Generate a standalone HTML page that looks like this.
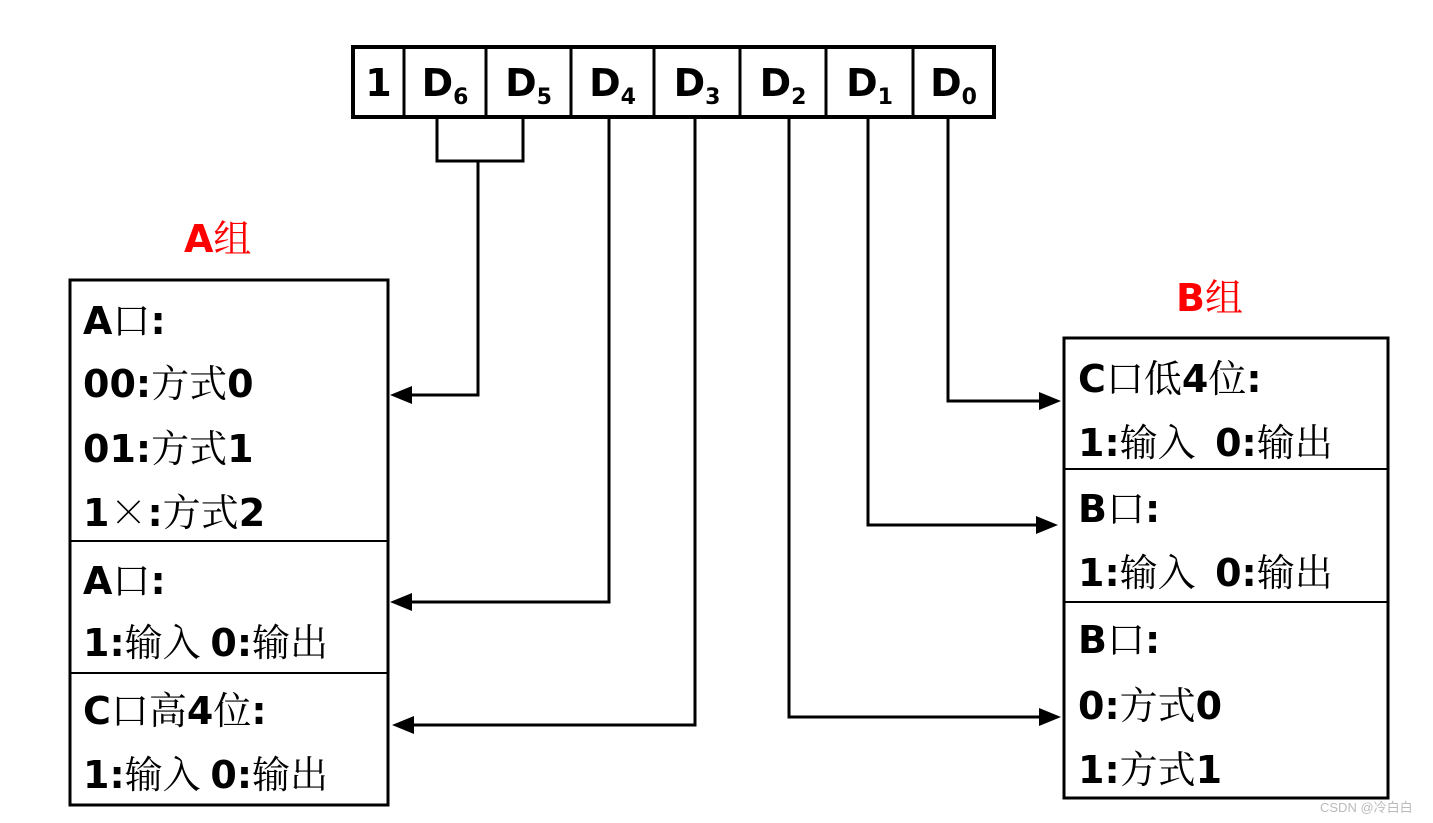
<!DOCTYPE html>
<html><head><meta charset="utf-8"><style>
body{margin:0;width:1433px;height:823px;background:#fff;position:relative;overflow:hidden;font-family:"DejaVu Sans","Noto Serif CJK SC",sans-serif;}
.t{position:absolute;font-size:38px;font-weight:bold;line-height:40px;height:40px;white-space:pre;color:#000}
.t span{font-family:"Noto Serif CJK SC","Noto Sans CJK SC",serif;font-weight:normal}
.r{color:#f00}
.cell{position:absolute;top:50px;height:66px;line-height:66px;text-align:center;font-size:38px;font-weight:bold}
.cell sub{font-size:22px;vertical-align:-8px}
</style></head><body>
<svg width="1433" height="823" style="position:absolute;left:0;top:0">
<g stroke="#000" stroke-width="3" fill="none">
<rect x="353" y="47" width="641" height="70" stroke-width="4"/>
<line x1="404" y1="47" x2="404" y2="117"/><line x1="486" y1="47" x2="486" y2="117"/>
<line x1="571" y1="47" x2="571" y2="117"/><line x1="654" y1="47" x2="654" y2="117"/>
<line x1="740" y1="47" x2="740" y2="117"/><line x1="826" y1="47" x2="826" y2="117"/>
<line x1="913" y1="47" x2="913" y2="117"/>
<polyline points="437,117 437,161 523,161 523,117"/>
<polyline points="478,161 478,395 405,395"/>
<polyline points="609,117 609,602 405,602"/>
<polyline points="695,117 695,725 405,725"/>
<polyline points="789,117 789,717 1045,717"/>
<polyline points="868,117 868,525 1045,525"/>
<polyline points="948,117 948,401 1045,401"/>
<rect x="70" y="280" width="318" height="525"/>
<line x1="70" y1="541" x2="388" y2="541" stroke-width="2"/>
<line x1="70" y1="673" x2="388" y2="673" stroke-width="2"/>
<rect x="1064" y="338" width="324" height="460"/>
<line x1="1064" y1="469" x2="1388" y2="469" stroke-width="2"/>
<line x1="1064" y1="602" x2="1388" y2="602" stroke-width="2"/>
</g>
<g fill="#000">
<polygon points="390,395 412,386 412,404"/>
<polygon points="390,602 412,593 412,611"/>
<polygon points="392,725 414,716 414,734"/>
<polygon points="1061,401 1039,392 1039,410"/>
<polygon points="1058,525 1036,516 1036,534"/>
<polygon points="1061,717 1039,708 1039,726"/>
</g>
</svg>
<div class="cell" style="left:353px;width:51px">1</div>
<div class="cell" style="left:404px;width:82px">D<sub>6</sub></div>
<div class="cell" style="left:486px;width:85px">D<sub>5</sub></div>
<div class="cell" style="left:571px;width:83px">D<sub>4</sub></div>
<div class="cell" style="left:654px;width:86px">D<sub>3</sub></div>
<div class="cell" style="left:740px;width:86px">D<sub>2</sub></div>
<div class="cell" style="left:826px;width:87px">D<sub>1</sub></div>
<div class="cell" style="left:913px;width:81px">D<sub>0</sub></div>

<div class="t r" style="left:184px;top:216px">A<span>组</span></div>
<div class="t r" style="left:1176px;top:275px">B<span>组</span></div>

<div class="t" style="left:83px;top:298px">A<span>口</span>:</div>
<div class="t" style="left:83px;top:361px">00:<span>方式</span>0</div>
<div class="t" style="left:83px;top:426px">01:<span>方式</span>1</div>
<div class="t" style="left:83px;top:490px">1<span>×</span>:<span>方式</span>2</div>
<div class="t" style="left:83px;top:558px">A<span>口</span>:</div>
<div class="t" style="left:83px;top:620px">1:<span>输入 </span>0:<span>输出</span></div>
<div class="t" style="left:83px;top:688px">C<span>口高</span>4<span>位</span>:</div>
<div class="t" style="left:83px;top:752px">1:<span>输入 </span>0:<span>输出</span></div>

<div class="t" style="left:1078px;top:356px">C<span>口低</span>4<span>位</span>:</div>
<div class="t" style="left:1078px;top:420px">1:<span>输入  </span>0:<span>输出</span></div>
<div class="t" style="left:1078px;top:486px">B<span>口</span>:</div>
<div class="t" style="left:1078px;top:550px">1:<span>输入  </span>0:<span>输出</span></div>
<div class="t" style="left:1078px;top:617px">B<span>口</span>:</div>
<div class="t" style="left:1078px;top:683px">0:<span>方式</span>0</div>
<div class="t" style="left:1078px;top:747px">1:<span>方式</span>1</div>
<div style="position:absolute;left:1320px;top:797px;font-size:13px;color:#bbb;font-family:'Liberation Sans','Noto Sans CJK SC',sans-serif">CSDN @冷白白</div>
</body></html>
